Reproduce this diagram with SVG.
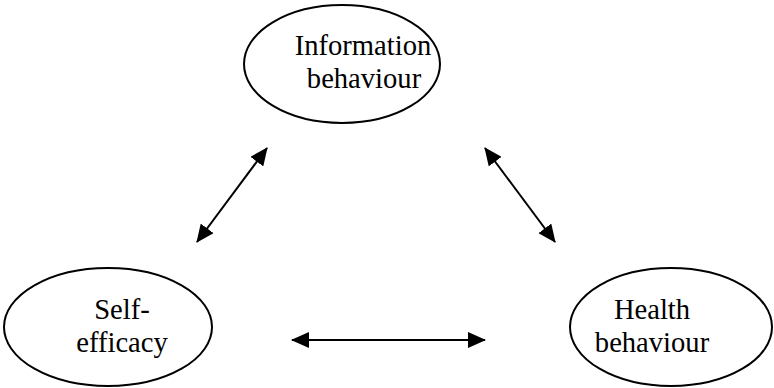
<svg xmlns="http://www.w3.org/2000/svg" width="774" height="388" viewBox="0 0 774 388">
<style>
.node ellipse{fill:#fff;stroke:#000;stroke-width:2}
.node text{font-family:"Liberation Serif","Times New Roman",serif;font-size:28.6px;fill:#000;text-anchor:middle}
.conn line{stroke:#000;stroke-width:2;marker-start:url(#ah);marker-end:url(#ah)}
</style>
<defs>
<marker id="ah" markerUnits="userSpaceOnUse" markerWidth="18" markerHeight="16" viewBox="0 0 18 16" refX="17" refY="8" orient="auto-start-reverse">
<path d="M0,0 L18,8 L0,16 Z" fill="#000"/>
</marker>
</defs>
<rect width="774" height="388" fill="#fff"/>
<g id="info" class="node">
<ellipse cx="342" cy="64" rx="98" ry="59"/>
<text x="363" y="55">Information</text>
<text x="364" y="88">behaviour</text>
</g>
<g id="self" class="node">
<ellipse cx="108" cy="327" rx="104" ry="59"/>
<text x="122" y="319">Self-</text>
<text x="122" y="352">efficacy</text>
</g>
<g id="health" class="node">
<ellipse cx="671" cy="327" rx="101" ry="59"/>
<text x="652" y="319">Health</text>
<text x="652" y="352">behaviour</text>
</g>
<g id="connectors" class="conn">
<line x1="197" y1="242" x2="267" y2="148"/>
<line x1="485" y1="148" x2="555" y2="242"/>
<line x1="292" y1="340" x2="485" y2="340"/>
</g>
</svg>
